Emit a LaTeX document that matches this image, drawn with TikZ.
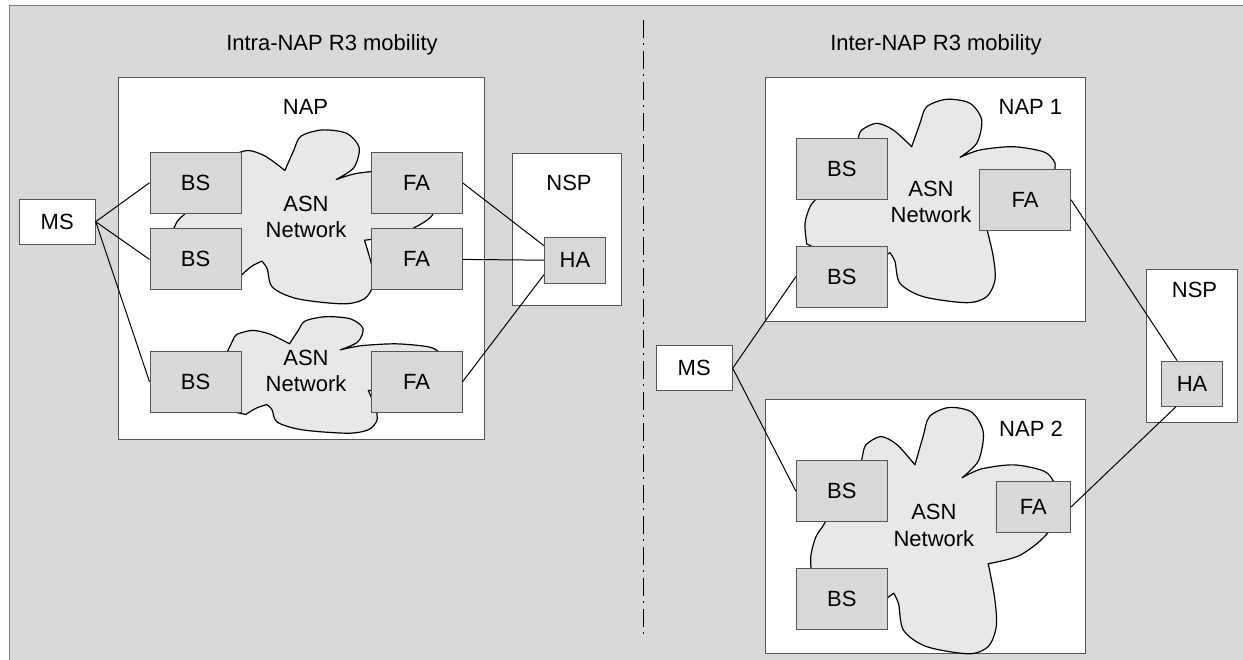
\documentclass[tikz,border=0pt]{standalone}
\usepackage{fontspec}
\setmainfont{Liberation Sans}

\definecolor{bgray}{HTML}{D9D9D9}
\definecolor{cloudgray}{HTML}{E8E8E8}
\definecolor{edgegray}{HTML}{555555}

\tikzset{
  unit/.style={draw=edgegray, fill=bgray, line width=1pt, inner sep=0pt,
    minimum width=91pt, minimum height=61pt},
  terminal/.style={draw=edgegray, fill=white, line width=1pt, inner sep=0pt,
    minimum width=76pt, minimum height=45pt},
  domainbox/.style={draw=edgegray, fill=white, line width=1pt},
  link/.style={line width=1pt},
  cloudline/.style={draw=black, fill=cloudgray, line width=1.2pt, line join=round},
  pics/asncloud/.style={code={
    \path[cloudline] (45,71) -- (53.3,39.3)
      -- plot[smooth] coordinates {(53.3,39.3) (56.7,31) (71.7,24.3) (88.3,31) (106.7,47.7)}
      -- plot[smooth] coordinates {(106.7,47.7) (115,24.3) (121.7,7.7) (141.7,0.3) (165,4.3) (176.7,21) (171.7,44.3) (155,58.3)}
      -- plot[smooth] coordinates {(155,58.3) (175,51) (208,47.7) (238.3,52.7) (248.3,61) (250,69.3) (245,101) (215,122) (181.7,129.3)}
      -- plot[smooth] coordinates {(181.7,129.3) (188.3,157.7) (190,181) (181.7,197.7) (161.7,203.7) (118.3,197.7) (95,184.3) (90,162.7) (85,153.7)}
      -- plot[smooth] coordinates {(85,153.7) (75,160) (65,171)}
      -- (15,151) -- (1.7,145)
      -- plot[smooth] coordinates {(1.7,145) (0,124.3) (5,107.7) (11.7,99.3)}
      -- (25,81) -- cycle;
  }}
}

\begin{document}
\begin{tikzpicture}[x=1pt, y=-1pt, font=\fontsize{22}{26.5}\selectfont]
\clip (0,0) rectangle (1243,660);

% Hintergrund
\draw[fill=bgray, draw=gray, line width=1pt] (9,6) rectangle (1270,690);

% Trennlinie
\coordinate (sepTop) at (643.5,20);
\coordinate (sepBot) at (643.5,639);
\draw[line width=1pt, dash pattern=on 18pt off 5pt on 2pt off 6pt] (sepTop) -- (sepBot);

% Titel
\node (titleL) at (332,45) {Intra-NAP R3 mobility};
\node (titleR) at (936,45) {Inter-NAP R3 mobility};

% ---------------- Intra-NAP ----------------
\draw[domainbox] (118.6,77.3) rectangle (484,439.3);
\node (napL) at (305.5,107.3) {NAP};
\draw[domainbox] (512.7,153.3) rectangle (621.3,305.7);
\node (nspL) at (569,182.7) {NSP};

\pic[xscale=1.061, yscale=0.855] at (171.7,129.7) {asncloud};
\pic[xscale=1.05, yscale=0.573] at (177.5,316.5) {asncloud};
\node[align=center] (asnL1) at (306,217) {ASN\\Network};
\node[align=center] (asnL2) at (306,370.7) {ASN\\Network};

\node[terminal] (msL) at (57.2,221.7) {MS};
\foreach \i/\y in {1/182.8, 2/259.4, 3/381.7} {
  \node[unit] (bsL\i) at (195.5,\y) {BS};
  \node[unit] (faL\i) at (416.6,\y) {FA};
}
\node[unit, minimum width=61pt, minimum height=46pt] (haL) at (575,260.2) {HA};

\foreach \i in {1,2,3}
  \draw[link] (msL.east) -- (bsL\i.west);
\draw[link] (faL1.east) -- (haL.155);
\draw[link] (faL2.east) -- (haL.west);
\draw[link] (faL3.east) -- (haL.205);

% ---------------- Inter-NAP ----------------
\draw[domainbox] (765.8,77.7) rectangle (1085.6,322);
\node (napR1) at (1030.4,106.7) {NAP 1};
\draw[domainbox] (765.8,399.6) rectangle (1085.6,653.8);
\node (napR2) at (1031,429.3) {NAP 2};
\draw[domainbox] (1146.8,269.2) rectangle (1237.8,422.2);
\node (nspR) at (1194.5,290.3) {NSP};

\pic at (805,99) {asncloud};
\pic[xscale=0.977, yscale=1.211] at (810.7,407.1) {asncloud};
\node[align=center] (asnR1) at (931,201.7) {ASN\\Network};
\node[align=center] (asnR2) at (933.9,525.3) {ASN\\Network};

\node[terminal] (msR) at (694.2,368.2) {MS};
\foreach \i/\y in {1/169.1, 2/276.6, 3/491.2, 4/598.6}
  \node[unit] (bsR\i) at (841.9,\y) {BS};
\node[unit] (faR1) at (1025,199.7) {FA};
\node[unit, minimum width=74pt, minimum height=51pt] (faR2) at (1033.3,507.2) {FA};
\node[unit, minimum width=61pt, minimum height=45pt] (haR) at (1192.1,383.7) {HA};

\draw[link] (msR.east) -- (bsR2.west);
\draw[link] (msR.east) -- (bsR3.west);
\draw[link] (faR1.east) -- (haR.123);
\draw[link] (faR2.east) -- (haR.235);
\end{tikzpicture}
\end{document}
